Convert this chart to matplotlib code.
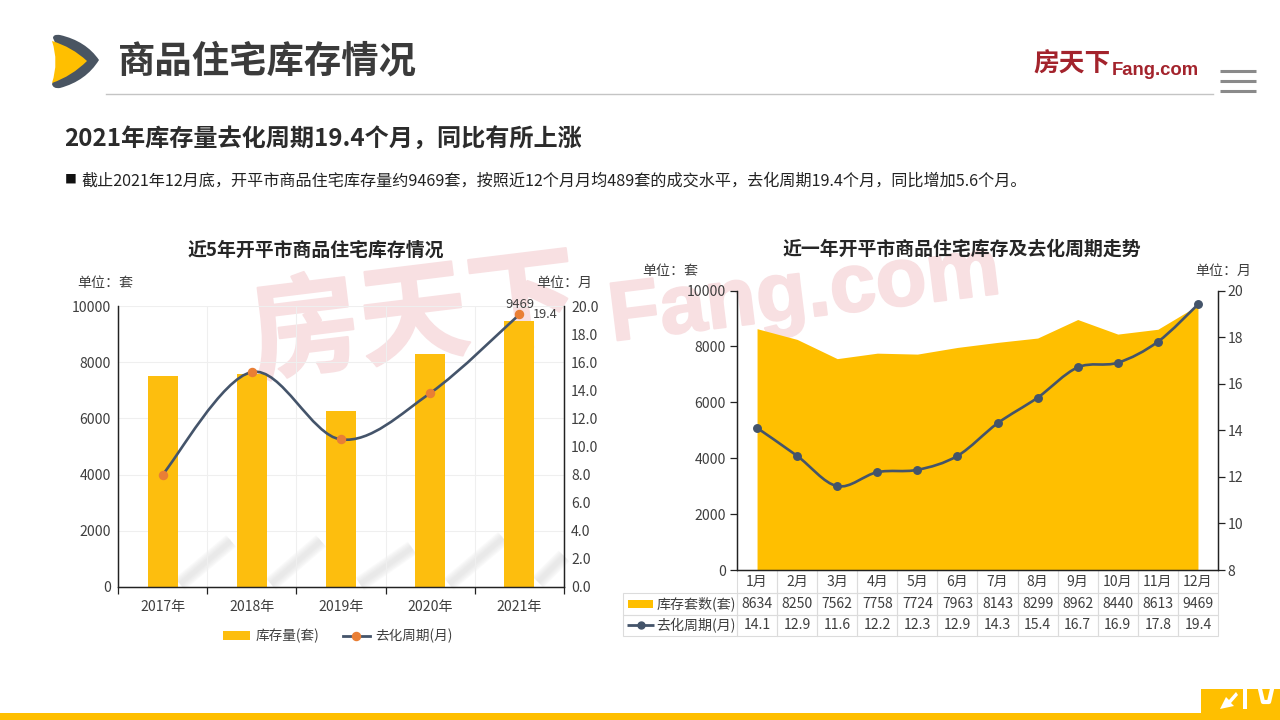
import numpy as np
import matplotlib
matplotlib.use("Agg")
import matplotlib.pyplot as plt
import matplotlib.patheffects as pe
from matplotlib.path import Path
from matplotlib.patches import PathPatch, Rectangle, Patch
from matplotlib.lines import Line2D
from matplotlib.table import Table

plt.rcParams['font.family'] = ['Noto Sans CJK SC', 'DejaVu Sans']

years = ['2017年', '2018年', '2019年', '2020年', '2021年']
stock_year = [7510, 7590, 6270, 8290, 9469]
cycle_year = [8.0, 15.3, 10.5, 13.8, 19.4]

months = ['1月', '2月', '3月', '4月', '5月', '6月', '7月', '8月', '9月', '10月', '11月', '12月']
stock_month = [8634, 8250, 7562, 7758, 7724, 7963, 8143, 8299, 8962, 8440, 8613, 9469]
cycle_month = [14.1, 12.9, 11.6, 12.2, 12.3, 12.9, 14.3, 15.4, 16.7, 16.9, 17.8, 19.4]

YELLOW = '#FFBF00'
BAR = '#FDBE0E'
SLATE = '#44546A'
ORANGE = '#E97F35'
TXT = '#3F3F3F'
W, H = 1280, 720
LAB = 10.1


def px_axes(fig, z):
    a = fig.add_axes([0, 0, 1, 1], zorder=z)
    a.set_xlim(0, W)
    a.set_ylim(H, 0)
    a.axis('off')
    a.patch.set_alpha(0)
    return a


def box(l, t, r, b):
    return [l / W, 1 - b / H, (r - l) / W, (b - t) / H]


def smooth_path(xs, ys):
    """Cubic Bezier path through the points with Catmull-Rom tangents."""
    p = np.column_stack([xs, ys]).astype(float)
    verts, codes = [p[0]], [Path.MOVETO]
    for i in range(len(p) - 1):
        a = p[max(i - 1, 0)]
        d = p[min(i + 2, len(p) - 1)]
        verts += [p[i] + (p[i + 1] - a) / 6, p[i + 1] - (d - p[i]) / 6, p[i + 1]]
        codes += [Path.CURVE4] * 3
    return Path(verts, codes)


def quad_shape(start, segs):
    verts, codes = [start], [Path.MOVETO]
    for ctrl, end in segs:
        verts += [ctrl, end]
        codes += [Path.CURVE3, Path.CURVE3]
    return Path(verts, codes)


def style_spines(a):
    a.spines['top'].set_visible(False)
    for s in ('left', 'right', 'bottom'):
        a.spines[s].set_color('#222222')
        a.spines[s].set_linewidth(0.9)


fig = plt.figure(figsize=(12.8, 7.2), dpi=100, facecolor='white')
bg = px_axes(fig, 0)
fg = px_axes(fig, 5)

# ---- background decoration
wm = '#F8E0E2'
thick = [pe.withStroke(linewidth=1.5, foreground=wm)]
bg.text(255, 372, '房天下', fontsize=79, fontweight='bold', color=wm, rotation=7,
        rotation_mode='anchor', ha='left', va='baseline', path_effects=thick)
bg.text(612, 341, 'Fang.com', fontsize=60, fontweight='bold', color=wm, rotation=7,
        rotation_mode='anchor', ha='left', va='baseline', family='Liberation Sans', path_effects=thick)
for x0, y0, x1, y1 in [(180, 584, 231, 541), (271, 584, 321, 541), (360, 584, 412, 548),
                       (449, 584, 503, 538), (538, 582, 564, 556)]:
    for lw in (11, 9, 7, 5, 3):
        bg.plot([x0, x1], [y0, y1], color='#d8d8d8', lw=lw, alpha=0.13, solid_capstyle='butt')

# logo chevron
dark = quad_shape((53, 38), [((53, 34), (60, 35)), ((86, 41), (99, 60)), ((86, 81), (60, 88)),
                             ((53, 89), (52, 84)), ((64, 60), (53, 38))])
bg.add_patch(PathPatch(dark, fc='#4A5562', ec='none'))
gold = quad_shape((52, 41), [((72, 47), (87, 61)), ((72, 76), (52, 83)), ((59, 62), (52, 41))])
bg.add_patch(PathPatch(gold, fc=YELLOW, ec='none'))

bg.text(118, 61, '商品住宅库存情况', fontsize=26.9, fontweight='bold', color='#3B3B3B', va='center')
bg.plot([106, 1213], [93.5, 93.5], color='#C4C4C4', lw=1)
bg.text(1033, 64, '房天下', fontsize=18.5, fontweight='bold', color='#A3232C', va='center')
bg.text(1112, 75, 'Fang.com', fontsize=13.3, fontweight='bold', color='#A3232C', family='Liberation Sans', va='baseline')
for y in (71, 81, 91):
    bg.plot([1220, 1256], [y, y], color='#8A8A8A', lw=2.2, solid_capstyle='butt')

bg.text(64, 139, '2021年库存量去化周期19.4个月，同比有所上涨', fontsize=17.4, fontweight='bold', color='#2B2B2B', va='center')
bg.text(65, 179.5, '■', fontsize=8.5, color='#111111', va='center')
bg.text(81, 181, '截止2021年12月底，开平市商品住宅库存量约9469套，按照近12个月月均489套的成交水平，去化周期19.4个月，同比增加5.6个月。',
        fontsize=11.6, color='#222222', va='center')

bg.add_patch(Rectangle((0, 713), W, 7, fc=YELLOW, ec='none'))
bg.add_patch(Rectangle((1201, 689), 79, 25, fc=YELLOW, ec='none'))
bg.add_patch(PathPatch(Path([(1220, 709), (1226, 697), (1229, 700), (1236, 692), (1238, 695), (1231, 703), (1234, 706)]),
                       fc='white', ec='none'))
bg.add_patch(Rectangle((1243, 689), 4, 20, fc='white', ec='none'))
bg.plot([1260, 1263, 1269, 1272], [689, 702, 702, 689], color='white', lw=3)

bg.text(316, 250, '近5年开平市商品住宅库存情况', fontsize=13.6, fontweight='bold', color='#262626', ha='center', va='center')
bg.text(962, 249, '近一年开平市商品住宅库存及去化周期走势', fontsize=13.6, fontweight='bold', color='#262626', ha='center', va='center')
for x, y, s in [(77, 283, '单位：套'), (536, 283, '单位：月'), (642, 271, '单位：套'), (1195, 271, '单位：月')]:
    bg.text(x, y, s, fontsize=LAB, color=TXT, va='center')

# ---- left chart
ax = fig.add_axes(box(118, 306, 564, 587), zorder=2)
ax.patch.set_alpha(0)
xy = np.arange(len(years))
ax.bar(xy, stock_year, width=0.335, color=BAR, zorder=2)
ax.set_xlim(-0.5, 4.5)
ax.set_ylim(0, 10000)
ax.set_yticks(range(0, 10001, 2000))
ax.set_xticks(xy, years)
ax.set_xticks(np.arange(-0.5, 5), minor=True)
ax.grid(True, which='minor', axis='x', color='#EFEFEF', lw=0.8, zorder=0)
ax.grid(True, which='major', axis='y', color='#EFEFEF', lw=0.8, zorder=0)
ax.tick_params(axis='x', which='major', length=0, labelsize=LAB, labelcolor=TXT, pad=9)
ax.tick_params(axis='x', which='minor', length=5, color='#222222', width=0.9)
ax.tick_params(axis='y', length=0, labelsize=LAB, labelcolor=TXT, pad=5)
style_spines(ax)

ax2 = ax.twinx()
ax2.set_zorder(ax.get_zorder() + 1)
ax2.patch.set_alpha(0)
ax2.set_ylim(0, 20)
ax2.set_yticks(np.arange(0, 20.1, 2), [f'{v:.1f}' for v in np.arange(0, 20.1, 2)])
ax2.tick_params(axis='y', length=0, labelsize=LAB, labelcolor=TXT, pad=5)
style_spines(ax2)
ax2.add_patch(PathPatch(smooth_path(xy, cycle_year), fc='none', ec=SLATE, lw=1.9, zorder=3))
ax2.plot(xy, cycle_year, ls='none', marker='o', ms=5.8, mfc=ORANGE, mec=ORANGE, zorder=4)
ax2.annotate(str(stock_year[-1]), (xy[-1], cycle_year[-1]), xytext=(0, 7), textcoords='offset points',
             ha='center', va='center', fontsize=9.4, color=TXT, zorder=6)
ax2.annotate(f'{cycle_year[-1]}', (xy[-1], cycle_year[-1]), xytext=(18.5, 0), textcoords='offset points',
             ha='center', va='center', fontsize=9.2, color=TXT, zorder=6)
leg_h = [Patch(fc=BAR, ec='none', label='库存量(套)'),
         Line2D([], [], color=SLATE, lw=2, marker='o', ms=5.8, mfc=ORANGE, mec=ORANGE, label='去化周期(月)')]
ax.legend(handles=leg_h, ncol=2, frameon=False, loc='center', bbox_to_anchor=((338 - 118) / 446, -(636 - 587) / 281),
          fontsize=LAB - 0.3, labelcolor=TXT, handlelength=2.0, handleheight=0.7, handletextpad=0.4, columnspacing=1.7)

# ---- right chart
ar = fig.add_axes(box(737, 290.5, 1218, 570), zorder=2)
ar.patch.set_alpha(0)
xm = np.arange(len(months))
ar.fill_between(xm, 0, stock_month, color=YELLOW, lw=0, zorder=1)
ar.set_xlim(-0.5, 11.5)
ar.set_ylim(0, 10000)
ar.set_yticks(range(0, 10001, 2000))
ar.set_xticks([])
ar.tick_params(axis='y', length=5, width=0.9, color='#222222', labelsize=LAB, labelcolor=TXT, pad=3)
style_spines(ar)

ar2 = ar.twinx()
ar2.set_zorder(ar.get_zorder() + 1)
ar2.patch.set_alpha(0)
ar2.set_ylim(8, 20)
ar2.set_yticks(range(8, 21, 2))
ar2.tick_params(axis='y', length=5, width=0.9, color='#222222', labelsize=LAB, labelcolor=TXT, pad=2)
style_spines(ar2)
ar2.add_patch(PathPatch(smooth_path(xm, cycle_month), fc='none', ec=SLATE, lw=1.9, zorder=3))
ar2.plot(xm, cycle_month, ls='none', marker='o', ms=5.4, mfc=SLATE, mec=SLATE, zorder=4)

# data table (cell sizes are axes fractions of the right chart)
aw, ah = 481.0, 279.5
row_h = [23 / ah, 21.5 / ah, 21.5 / ah]
label_w, col_w = 114.5 / aw, 1 / 12
rows = [(None, months),
        ('库存套数(套)', [str(v) for v in stock_month]),
        ('去化周期(月)', [f'{v}' for v in cycle_month])]
tb = Table(ar, bbox=[-label_w, -66 / ah, 1 + label_w, 66 / ah])
tb.auto_set_font_size(False)
for r, (label, vals) in enumerate(rows):
    if label is not None:
        c0 = tb.add_cell(r, 0, label_w, row_h[r], text=label, loc='right', edgecolor='#DCDCDC', facecolor='none')
        c0.PAD = 0.01
    else:
        c0 = tb.add_cell(r, 0, label_w, row_h[r], text='', edgecolor='none', facecolor='none')
    for c, v in enumerate(vals):
        tb.add_cell(r, c + 1, col_w, row_h[r], text=v, loc='center', edgecolor='#DCDCDC', facecolor='none')
tb.set_fontsize(LAB)
for cell in tb.get_celld().values():
    cell.set_linewidth(0.8)
    cell.get_text().set_color(TXT)
ar.add_table(tb)

fg.add_patch(Rectangle((628, 599.5), 25, 8.5, fc=YELLOW, ec='none'))
fg.plot([627, 654], [625, 625], color=SLATE, lw=2, solid_capstyle='butt')
fg.plot([640.5], [625], ls='none', marker='o', ms=5, mfc=SLATE, mec=SLATE)

fig.savefig('out.png', dpi=100)
